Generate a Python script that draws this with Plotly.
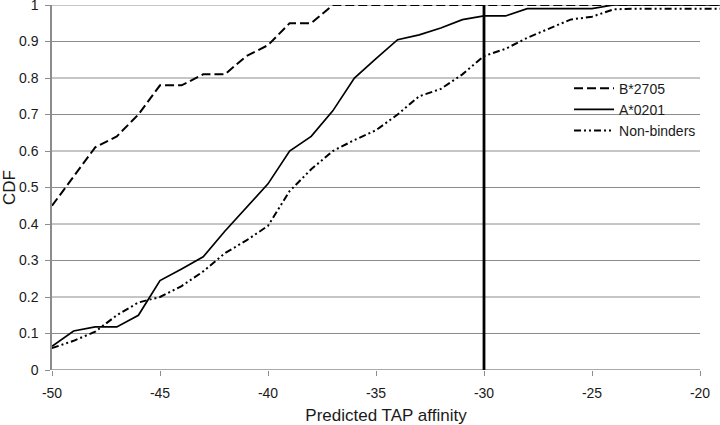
import plotly.graph_objects as go

x_vals = list(range(-50, -18))

b2705 = [0.45, 0.53, 0.61, 0.64, 0.70, 0.78, 0.78, 0.81, 0.81, 0.86, 0.89,
         0.95, 0.95, 1.0, 1.0, 1.0, 1.0, 1.0, 1.0, 1.0, 1.0, 1.0, 1.0, 1.0,
         1.0, 1.0, 1.0, 1.0, 1.0, 1.0, 1.0, 1.0]

a0201 = [0.065, 0.107, 0.118, 0.118, 0.15, 0.245, 0.277, 0.31, 0.38, 0.445, 0.51,
         0.60, 0.64, 0.71, 0.80, 0.853, 0.905, 0.918, 0.937, 0.96, 0.97,
         0.97, 0.99, 0.99, 0.99, 0.99, 1.0, 1.0, 1.0, 1.0, 1.0, 1.0]

nonbinders = [0.06, 0.08, 0.105, 0.15, 0.185, 0.20, 0.23, 0.27, 0.32, 0.355, 0.395,
              0.49, 0.55, 0.60, 0.63, 0.657, 0.70, 0.75, 0.77, 0.81, 0.86,
              0.88, 0.91, 0.935, 0.96, 0.968, 0.988, 0.99, 0.99, 0.99, 0.99, 0.99]

threshold_x = [-30, -30]
threshold_y = [0, 1]

x_min, x_max = -50, -20
x_ticks = [-50, -45, -40, -35, -30, -25, -20]
y_ticks = [0, 0.1, 0.2, 0.3, 0.4, 0.5, 0.6, 0.7, 0.8, 0.9, 1]
y_ticktext = ["0", "0.1", "0.2", "0.3", "0.4", "0.5", "0.6", "0.7", "0.8", "0.9", "1"]

fig = go.Figure()
fig.add_trace(go.Scatter(x=x_vals, y=b2705, mode="lines", name="B*2705",
                         line=dict(color="black", width=2, dash="9px,4px")))
fig.add_trace(go.Scatter(x=x_vals, y=a0201, mode="lines", name="A*0201",
                         line=dict(color="black", width=1.7)))
fig.add_trace(go.Scatter(x=x_vals, y=nonbinders, mode="lines", name="Non-binders",
                         line=dict(color="black", width=2,
                                   dash="7px,3px,2px,3px,2px,3px")))
fig.add_trace(go.Scatter(x=threshold_x, y=threshold_y, mode="lines",
                         showlegend=False,
                         line=dict(color="black", width=2.8)))

# gridlines and x-axis baseline limited to the -50..-20 span (lines run past it)
for yv in y_ticks[1:]:
    fig.add_shape(type="line", xref="x", yref="y", x0=x_min, x1=x_max, y0=yv, y1=yv,
                  line=dict(color="#8c8c8c", width=1), layer="below")
fig.add_shape(type="line", xref="x", yref="y", x0=x_min, x1=x_max, y0=0, y1=0,
              line=dict(color="#8c8c8c", width=1.5), layer="below")

font_family = "Liberation Sans, Arial, sans-serif"

fig.update_layout(
    width=720, height=425,
    margin=dict(l=52, r=0, t=5, b=55),
    paper_bgcolor="white", plot_bgcolor="white",
    font=dict(family=font_family, size=14, color="#1a1a1a"),
    showlegend=True,
    legend=dict(x=0.774, y=0.815, xanchor="left", yanchor="top",
                bgcolor="rgba(0,0,0,0)", font=dict(size=14),
                tracegroupgap=0, itemwidth=40),
    xaxis=dict(range=[x_min, x_max + 20 / 21.6], tickvals=x_ticks,
               ticktext=[str(v) for v in x_ticks],
               showgrid=False, zeroline=False, showline=False, automargin=False,
               ticks="outside", ticklen=5, tickcolor="#8c8c8c", tickwidth=1.2,
               ticklabelstandoff=5, ticklabeloverflow="allow",
               title=dict(text="Predicted TAP affinity", standoff=13)),
    yaxis=dict(range=[0, 1], tickvals=y_ticks, ticktext=y_ticktext,
               showgrid=False, zeroline=False, showline=True, automargin=False,
               linecolor="#8c8c8c", linewidth=1.5,
               ticks="outside", ticklen=5, tickcolor="#8c8c8c",
               ticklabelstandoff=4, ticklabeloverflow="allow",
               title=dict(text="CDF", standoff=8)),
)

fig.write_html("out.html", config={"displayModeBar": False},
               post_script="document.body.style.margin='0';document.body.style.padding='0';")
